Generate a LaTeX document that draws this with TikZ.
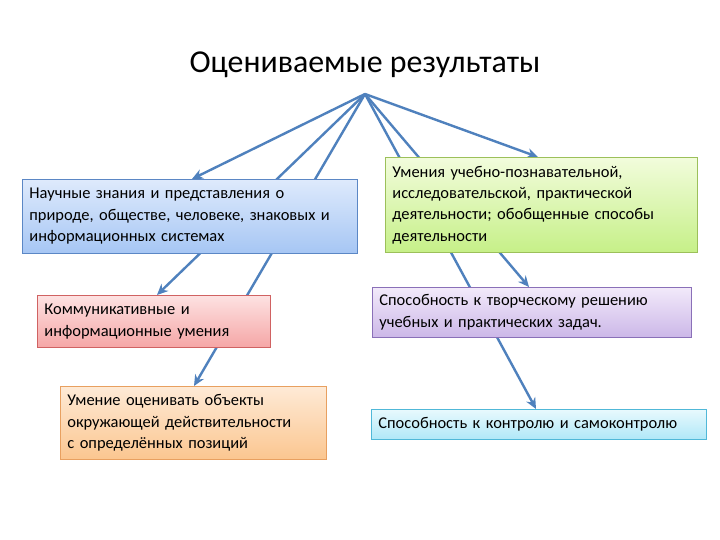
\documentclass[tikz,border=0pt]{standalone}
\usepackage{fontspec}
\setmainfont{Carlito}
\usetikzlibrary{arrows.meta}
\definecolor{arr}{HTML}{4F81BD}
\definecolor{bB}{HTML}{5B87C5}
\definecolor{bG}{HTML}{9CC05A}
\definecolor{bR}{HTML}{D06262}
\definecolor{bP}{HTML}{8A70B8}
\definecolor{bO}{HTML}{E8A060}
\definecolor{bC}{HTML}{50B8D8}
\tikzset{
  box/.style={draw=#1, line width=0.8bp, anchor=north west, inner sep=0pt, align=left, font=\fontsize{16.5}{21.5}\selectfont, text=black},
  conn/.style={draw=arr, line width=2.4bp, -{Stealth[length=11bp,width=10bp]}},
}
\begin{document}
\begin{tikzpicture}[x=1bp,y=-1bp]
\useasboundingbox (0,0) rectangle (720,540);
\fill[white] (0,0) rectangle (720,540);
\node[font=\fontsize{32}{36}\selectfont] (title) at (365,65) {Оцениваемые результаты};
\coordinate (apex) at (365,94);
\coordinate (tA) at (192,179);
\coordinate (tB) at (157,295);
\coordinate (tC) at (194,386);
\coordinate (tD) at (536,409);
\coordinate (tE) at (529,287);
\coordinate (tF) at (538,157);
\foreach \t in {tA,tB,tC,tD,tE,tF} \draw[conn] (apex) -- (\t);
\node[box=bB, top color={rgb,255:red,222;green,234;blue,252}, bottom color={rgb,255:red,166;green,198;blue,244}, minimum width=335bp, minimum height=74bp, text width=335bp] (blue) at (22,179) {\hspace*{7bp}\parbox{325bp}{Научные знания и представления о\\природе, обществе, человеке, знаковых и\\информационных системах}};
\node[box=bG, top color={rgb,255:red,242;green,252;blue,220}, bottom color={rgb,255:red,198;green,240;blue,136}, minimum width=312bp, minimum height=95bp, text width=312bp] (green) at (385,157) {\hspace*{7bp}\parbox{300bp}{Умения учебно-познавательной,\\исследовательской, практической\\деятельности; обобщенные способы\\деятельности}};
\node[box=bR, top color={rgb,255:red,253;green,226;blue,226}, bottom color={rgb,255:red,245;green,166;blue,166}, minimum width=233bp, minimum height=52bp, text width=233bp] (red) at (37,295) {\hspace*{7bp}\parbox{222bp}{Коммуникативные и\\информационные умения}};
\node[box=bP, top color={rgb,255:red,242;green,234;blue,250}, bottom color={rgb,255:red,204;green,184;blue,232}, minimum width=319bp, minimum height=50bp, text width=319bp] (purple) at (372,287) {\hspace*{7bp}\parbox{308bp}{Способность к творческому решению\\учебных и практических задач.}};
\node[box=bO, top color={rgb,255:red,254;green,234;blue,214}, bottom color={rgb,255:red,251;green,198;blue,144}, minimum width=266bp, minimum height=73bp, text width=266bp] (orange) at (60,386) {\hspace*{7bp}\parbox{255bp}{Умение оценивать объекты\\окружающей действительности\\с определённых позиций}};
\node[box=bC, top color={rgb,255:red,232;green,249;blue,253}, bottom color={rgb,255:red,176;green,232;blue,248}, minimum width=335bp, minimum height=30bp, text width=335bp] (cyan) at (371,409) {\hspace*{7bp}Способность к контролю и самоконтролю};
\end{tikzpicture}
\end{document}
